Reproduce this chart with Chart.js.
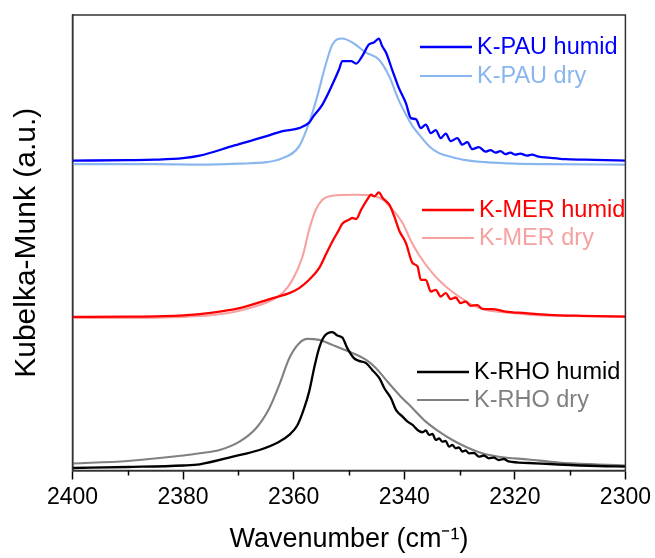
<!DOCTYPE html>
<html>
<head>
<meta charset="utf-8">
<script src="https://cdn.jsdelivr.net/npm/chart.js@4"></script>
<style>
  html, body { margin: 0; padding: 0; background: #fff; }
  #wrap { width: 655px; height: 558px; }
</style>
</head>
<body>
<div id="wrap"><canvas id="kmChart" width="655" height="558"></canvas></div>
<script>
// values (wavenumber cm-1, Kubelka-Munk in arbitrary offset units)
var pauHumidX = [2400, 2390, 2385, 2380, 2377, 2371.1, 2364.9, 2362, 2359, 2357.2, 2356.4, 2354.8, 2353, 2351.8, 2351.2, 2349.6, 2348.7, 2347.6, 2346.4, 2345.5, 2344.6, 2344, 2343.3, 2342.2, 2341, 2339.7, 2338.8, 2337.9, 2337, 2336.1, 2335.2, 2334.3, 2333.4, 2332.5, 2331.6, 2330.4, 2329.5, 2328.6, 2327.7, 2326.5, 2325.3, 2324.4, 2323.5, 2322.6, 2321.7, 2320.8, 2319.9, 2319, 2317.8, 2316.9, 2315.7, 2313.9, 2310.9, 2307.3, 2303.7, 2300];
var pauHumidY = [309.5, 310, 310.5, 312, 314.5, 324, 334, 339, 342, 347.5, 354, 365.5, 385.5, 400.5, 409, 409, 406.5, 414, 425.5, 427.5, 431.5, 424, 417.5, 400.5, 382.5, 367, 352, 351, 342, 345.5, 337, 340, 332, 336.5, 329, 332, 325.5, 328, 321, 323, 318.5, 320, 317.5, 319, 316, 317.5, 315.5, 316.5, 314.5, 315.5, 313.5, 312.5, 311, 310.5, 310, 309.5];

var pauDryX = [2400, 2385, 2377, 2370, 2364.9, 2362, 2359, 2357.2, 2355.9, 2354.1, 2353, 2351.2, 2349.4, 2346.9, 2344.6, 2342.7, 2341, 2339.7, 2338.5, 2337.3, 2335.5, 2333.7, 2331.3, 2328.9, 2325.3, 2319.9, 2313.9, 2300];
var pauDryY = [306, 306, 305.5, 306.5, 308, 312, 324, 347.5, 370.5, 407.5, 425.5, 431.5, 427.5, 417.5, 410.5, 393.5, 370, 355.5, 344, 335.5, 324, 317, 313, 310, 308, 306.5, 306, 305.5];

var merHumidX = [2400, 2390, 2380, 2375, 2369.8, 2363.8, 2360.8, 2359, 2357.2, 2355.4, 2354.2, 2353, 2351.8, 2351.2, 2350, 2349.4, 2348.7, 2347.8, 2346.7, 2346, 2345.4, 2344.6, 2343.9, 2342.7, 2341.8, 2340.9, 2339.7, 2338.5, 2337.6, 2337, 2336.1, 2335.2, 2334.3, 2333.4, 2332.5, 2331.6, 2330.7, 2329.8, 2328.9, 2328, 2326.8, 2325.9, 2324.1, 2321.7, 2318.1, 2313.9, 2307.9, 2300];
var merHumidY = [153.5, 153.7, 155, 157.5, 162.2, 172.2, 177.2, 182.2, 190.5, 202.2, 215.5, 228.8, 240.5, 246.5, 250.5, 252.2, 251.2, 260.5, 270.5, 275.5, 273.8, 277.8, 272.2, 265.5, 253.8, 239.5, 227.2, 207.2, 203.8, 190.5, 190.5, 178.8, 180.5, 173.8, 177.2, 171.2, 172.8, 167.2, 168.8, 164.5, 165.2, 161.5, 161.2, 158.8, 157.2, 155.5, 154.5, 153.8];

var merDryX = [2400, 2390, 2380, 2375, 2369.8, 2363.8, 2362, 2360.2, 2358.4, 2357.2, 2356, 2354.8, 2353, 2348.7, 2345.7, 2343.9, 2342.1, 2340.3, 2338.8, 2337.3, 2334.9, 2332.5, 2330.1, 2327.7, 2325.3, 2321.7, 2316.9, 2310.9, 2300];
var merDryY = [152.5, 152.5, 153.5, 155, 159.5, 170.5, 177.2, 190.5, 213.8, 240.5, 260.5, 270.5, 274.5, 275.5, 274.5, 270.5, 260.5, 247.2, 229.5, 215, 197.2, 183.8, 173.8, 165.5, 160.5, 157.8, 155.5, 154.5, 153.8];

var rhoHumidX = [2400, 2390, 2380, 2377, 2371, 2366.2, 2362.6, 2360.8, 2359.3, 2358.1, 2357.2, 2356.3, 2355.4, 2354.5, 2353, 2352.1, 2351.2, 2350.3, 2349.1, 2348.2, 2346.9, 2345.8, 2344.5, 2343.6, 2342.4, 2341.5, 2340.3, 2339.4, 2338.5, 2337.6, 2336.7, 2336.1, 2335.5, 2334.9, 2334.3, 2333.7, 2333.1, 2332.5, 2331.9, 2331.3, 2330.7, 2330.1, 2329.5, 2328.9, 2328.3, 2327.4, 2326.5, 2325.6, 2324.7, 2323.8, 2322.9, 2322, 2321.1, 2317.5, 2312.1, 2304.9, 2300];
var rhoHumidY = [2.5, 3.5, 5, 6.2, 13.8, 20.5, 28.8, 35.5, 45.5, 62.2, 78.8, 102.2, 122.2, 133.8, 138.2, 134.8, 132.8, 122.2, 112.2, 109.5, 107.2, 100.5, 92.2, 82.2, 72.2, 60.5, 53.8, 48.8, 45.5, 40.5, 38.2, 40, 35.5, 36.5, 30.5, 32, 28.8, 29.5, 23.8, 25.5, 22.2, 23, 18.8, 20, 17.2, 17.5, 13.8, 15, 12.2, 12.8, 10.5, 11.5, 9, 7.5, 6, 4.5, 4];

var rhoDryX = [2400, 2390, 2380, 2377, 2373.4, 2369.8, 2366.8, 2364.4, 2362.6, 2360.8, 2359, 2357.5, 2355.4, 2353, 2350, 2346.9, 2345.1, 2343.3, 2340.9, 2338.5, 2336.1, 2333.7, 2331.3, 2328.9, 2325.9, 2322.9, 2317.5, 2312.1, 2304.9, 2300];
var rhoDryY = [7, 9.5, 15, 17.2, 20.5, 28.8, 42.2, 62.2, 85.5, 112.2, 127.2, 131.5, 130.5, 125.5, 118.8, 110.5, 102.2, 90.5, 75.5, 62.2, 48.8, 38.8, 30.5, 23.8, 17.2, 13.8, 11, 8, 6, 5];

var seriesLabels = ['K-PAU humid', 'K-PAU dry', 'K-MER humid', 'K-MER dry', 'K-RHO humid', 'K-RHO dry'];
var seriesColors = ['#0000ff', '#8ab6f0', '#ff0000', '#f7a1a1', '#000000', '#808080'];
var xTicksMajor = [2400, 2380, 2360, 2340, 2320, 2300];
var xTicksMinor = [2390, 2370, 2350, 2330, 2310];

var FONT = "'Liberation Sans', Arial, sans-serif";

function pts(xs, ys) {
    return xs.map(function (x, i) { return {x: x, y: ys[i]}; });
}

var allX = [pauHumidX, pauDryX, merHumidX, merDryX, rhoHumidX, rhoDryX];
var allY = [pauHumidY, pauDryY, merHumidY, merDryY, rhoHumidY, rhoDryY];

var datasets = seriesLabels.map(function (lbl, i) {
    return {
        label: lbl,
        data: pts(allX[i], allY[i]),
        borderColor: seriesColors[i],
        borderWidth: (i % 2 === 0) ? 2.3 : 2.1,
        showLine: true,
        pointRadius: 0,
        cubicInterpolationMode: 'monotone'
    };
});

// legend rows drawn inside the plot, one pair per sample
var legendPlugin = {
    id: 'pairLegend',
    afterDatasetsDraw: function (chart) {
        var ctx = chart.ctx;
        var rows = [
            {x: 420, y: 47}, {x: 420, y: 76},
            {x: 422, y: 210}, {x: 422, y: 238},
            {x: 417, y: 372}, {x: 417, y: 400}
        ];
        ctx.save();
        ctx.font = '23.5px ' + FONT;
        ctx.textBaseline = 'middle';
        chart.data.datasets.forEach(function (ds, i) {
            var r = rows[i];
            ctx.strokeStyle = ds.borderColor;
            ctx.lineWidth = ds.borderWidth;
            ctx.beginPath();
            ctx.moveTo(r.x, r.y);
            ctx.lineTo(r.x + 52, r.y);
            ctx.stroke();
            ctx.fillStyle = ds.borderColor;
            ctx.fillText(ds.label, r.x + 57, r.y + 1);
        });
        ctx.restore();
    }
};

// box round the plot + minor ticks on the x axis
var framePlugin = {
    id: 'frame',
    afterDraw: function (chart) {
        var ctx = chart.ctx, a = chart.chartArea, xs = chart.scales.x;
        ctx.save();
        ctx.strokeStyle = '#333';
        ctx.lineWidth = 1.5;
        ctx.strokeRect(a.left, a.top, a.right - a.left, a.bottom - a.top);
        ctx.strokeStyle = '#000';
        xTicksMinor.forEach(function (v) {
            var px = Math.round(xs.getPixelForValue(v)) + 0.5;
            ctx.beginPath();
            ctx.moveTo(px, a.bottom);
            ctx.lineTo(px, a.bottom + 5);
            ctx.stroke();
        });
        ctx.restore();
    }
};

var chart = new Chart(document.getElementById('kmChart'), {
    type: 'scatter',
    data: {datasets: datasets},
    plugins: [legendPlugin, framePlugin],
    options: {
        responsive: false,
        animation: false,
        layout: {padding: {top: 15, right: 28, left: 0, bottom: 0}},
        plugins: {legend: {display: false}, tooltip: {enabled: false}},
        scales: {
            x: {
                type: 'linear',
                reverse: true,
                min: 2300,
                max: 2400,
                afterBuildTicks: function (s) { s.ticks = xTicksMajor.map(function (v) { return {value: v}; }); },
                afterFit: function (s) { s.height = 87.5; },
                ticks: {color: '#000', font: {family: FONT, size: 23}, padding: 4, maxRotation: 0,
                        callback: function (v) { return String(v); }},
                grid: {drawOnChartArea: false, tickLength: 9, tickColor: '#000', tickWidth: 1.5},
                border: {color: '#000', width: 1.5},
                title: {display: true, text: 'Wavenumber (cm\u207B\u00B9)', color: '#000',
                        font: {family: FONT, size: 27}, padding: {top: 0, bottom: 2}}
            },
            y: {
                type: 'linear',
                min: 0,
                max: 455,
                afterFit: function (s) { s.width = 72.5; },
                ticks: {display: false},
                grid: {display: false},
                border: {color: '#333', width: 1.5},
                title: {display: true, text: 'Kubelka-Munk (a.u.)', color: '#000',
                        font: {family: FONT, size: 30}, padding: {top: 9, bottom: 0}}
            }
        }
    }
});
</script>
</body>
</html>
